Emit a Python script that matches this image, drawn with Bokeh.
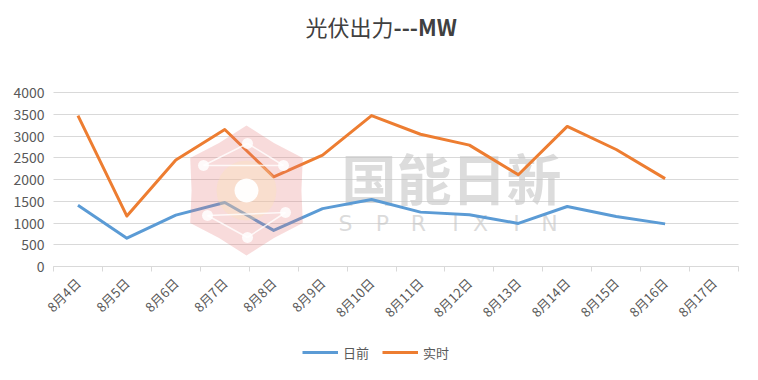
import math
import numpy as np
from bokeh.plotting import figure
from bokeh.models import (Range1d, FixedTicker, Label, Legend, LegendItem,
                          PolyAnnotation, Arrow)
from bokeh.embed import file_html
from bokeh.resources import INLINE

# ---- data ----
dates = ["8月4日", "8月5日", "8月6日", "8月7日", "8月8日", "8月9日", "8月10日",
         "8月11日", "8月12日", "8月13日", "8月14日", "8月15日", "8月16日", "8月17日"]
day_ahead = [1410, 650, 1180, 1470, 830, 1330, 1540, 1250, 1190, 990, 1380, 1150, 980, float("nan")]
real_time = [3470, 1160, 2450, 3150, 2060, 2560, 3470, 3040, 2790, 2110, 3220, 2690, 2020, float("nan")]
y_ticks = [0, 500, 1000, 1500, 2000, 2500, 3000, 3500, 4000]
series_names = ["日前", "实时"]
series_colors = ["#5B9BD5", "#ED7D31"]
title_cn = "光伏出力"
title_unit = "---MW"
watermark_cn = "国能日新"
watermark_en = "SPRIXIN"

FONT = "Noto Sans CJK SC"
W, H = 742, 364
# plot-area box in canvas pixels
LEFT_PX, RIGHT_PX = 53, 738
AXIS_PX, GRID_TOP_PX = 266, 92

n = len(dates)
x_lo, x_hi = -0.5, n - 0.5
xper = (x_hi - x_lo) / (RIGHT_PX - LEFT_PX)
yper = y_ticks[-1] / (AXIS_PX - GRID_TOP_PX)
x_range = Range1d(x_lo - LEFT_PX * xper, x_hi + (W - RIGHT_PX) * xper)
y_range = Range1d(-(H - AXIS_PX) * yper, y_ticks[-1] + GRID_TOP_PX * yper)

p = figure(width=W, height=H, output_backend="svg", toolbar_location=None,
           x_range=x_range, y_range=y_range,
           min_border_left=0, min_border_right=0, min_border_top=0, min_border_bottom=0)
p.title.visible = False
p.outline_line_color = None
p.background_fill_color = "white"
p.border_fill_color = "white"

x = np.arange(n)

# x axis, drawn at value 0
xa = p.xaxis[0]
xa.fixed_location = 0
xa.bounds = (x_lo, x_hi)
xa.ticker = FixedTicker(ticks=[int(v) for v in x],
                        minor_ticks=[v - 0.5 for v in range(n + 1)])
xa.major_label_overrides = {int(v): d for v, d in zip(x, dates)}
xa.axis_line_color = "#d9d9d9"
xa.major_tick_out = 0
xa.major_tick_in = 0
xa.minor_tick_out = 5
xa.minor_tick_in = 0
xa.minor_tick_line_color = "#d9d9d9"
xa.major_label_orientation = math.pi / 4
xa.major_label_text_font = FONT
xa.major_label_text_font_size = "13px"
xa.major_label_text_color = "#595959"
xa.major_label_standoff = 9

# y axis, drawn at the left edge of the category band
ya = p.yaxis[0]
ya.fixed_location = x_lo
ya.bounds = (y_ticks[0], y_ticks[-1])
ya.ticker = FixedTicker(ticks=y_ticks)
ya.axis_line_color = None
ya.major_tick_out = 0
ya.major_tick_in = 0
ya.minor_tick_out = 0
ya.minor_tick_in = 0
ya.major_tick_line_color = None
ya.minor_tick_line_color = None
ya.major_label_text_font = FONT
ya.major_label_text_font_size = "14px"
ya.major_label_text_color = "#595959"
ya.major_label_standoff = 9

p.xgrid.visible = False
yg = p.ygrid[0]
if "cross_bounds" in yg.properties():
    yg.ticker = FixedTicker(ticks=y_ticks)
    yg.cross_bounds = (x_lo, x_hi)
    yg.grid_line_color = "#d9d9d9"
    yg.grid_line_width = 1
else:
    yg.visible = False
    p.segment(x0=[x_lo] * len(y_ticks), x1=[x_hi] * len(y_ticks), y0=y_ticks, y1=y_ticks,
              line_color="#d9d9d9", line_width=1, level="underlay")

# ---- watermark (decoration), screen units from the frame's bottom-left ----
p.add_layout(Label(x=451, y=H - 175, x_units="screen", y_units="screen", text=watermark_cn,
                   text_align="center", text_baseline="middle", text_font=FONT,
                   text_font_style="bold", text_font_size="55px", text_color="#c4c4c4",
                   text_alpha=0.6, level="underlay"))
en_x = [345, 382, 418, 455, 480, 516, 549]
for ch, ex in zip(watermark_en, en_x):
    p.add_layout(Label(x=ex, y=H - 223, x_units="screen", y_units="screen", text=ch,
                       text_align="center", text_baseline="middle", text_font="DejaVu Sans",
                       text_font_size="22px", text_color="#c4c4c4", text_alpha=0.6,
                       level="underlay"))


def ring(cx, cy, r, k=24):
    return ([cx + r * math.cos(2 * math.pi * i / k) for i in range(k)],
            [cy + r * math.sin(2 * math.pi * i / k) for i in range(k)])


cx, cy, R = 246, H - 190, 65
hx, hy = [], []
for k in range(6):
    a0 = math.radians(90 + 60 * k)
    a1 = math.radians(90 + 60 * (k + 1))
    hx.append(cx + R * math.cos(a0))
    hy.append(cy + R * math.sin(a0))
    am = (a0 + a1) / 2
    hx.append(cx + R * 0.845 * math.cos(am))
    hy.append(cy + R * 0.845 * math.sin(am))
p.add_layout(PolyAnnotation(xs=hx, ys=hy, xs_units="screen", ys_units="screen",
                            fill_color="#e57373", fill_alpha=0.26, line_color=None))
gx, gy = ring(cx, cy, 30)
p.add_layout(PolyAnnotation(xs=gx, ys=gy, xs_units="screen", ys_units="screen",
                            fill_color="#fbe3b0", fill_alpha=0.3, line_color=None))
nodes = [(-43, 25), (1, 47), (37, 25), (-39, -25), (1, -47), (39, -22)]
links = [(0, 1), (1, 2), (3, 4), (4, 5), (0, 2), (3, 5)]
for a, b in links:
    p.add_layout(Arrow(x_start=cx + nodes[a][0], y_start=cy + nodes[a][1],
                       x_end=cx + nodes[b][0], y_end=cy + nodes[b][1],
                       start_units="screen", end_units="screen", end=None,
                       line_color="white", line_width=1.5, line_alpha=0.8))
for dx, dy in nodes:
    nx, ny = ring(cx + dx, cy + dy, 5.5, 16)
    p.add_layout(PolyAnnotation(xs=nx, ys=ny, xs_units="screen", ys_units="screen",
                                fill_color="white", fill_alpha=0.85, line_color=None))
ccx, ccy = ring(cx, cy, 12)
p.add_layout(PolyAnnotation(xs=ccx, ys=ccy, xs_units="screen", ys_units="screen",
                            fill_color="white", fill_alpha=0.95, line_color=None))

# ---- lines ----
r1 = p.line(x, day_ahead, line_color=series_colors[0], line_width=3, line_join="round")
r2 = p.line(x, real_time, line_color=series_colors[1], line_width=3, line_join="round")

legend = Legend(items=[LegendItem(label=series_names[0], renderers=[r1]),
                       LegendItem(label=series_names[1], renderers=[r2])],
                location=(302, 2), orientation="horizontal",
                glyph_width=36, glyph_height=20, label_height=20, label_standoff=5,
                spacing=13, padding=0, margin=0,
                label_text_font=FONT, label_text_font_size="13px",
                label_text_color="#595959",
                border_line_color=None, background_fill_alpha=0)
p.add_layout(legend, "center")

# ---- title ----
p.add_layout(Label(x=393, y=H - 25, x_units="screen", y_units="screen", text=title_cn,
                   text_align="right", text_baseline="middle", text_font=FONT,
                   text_font_size="22px", text_color="#404040"))
p.add_layout(Label(x=393, y=H - 25, x_units="screen", y_units="screen", text=title_unit,
                   text_align="left", text_baseline="middle", text_font=FONT,
                   text_font_style="bold", text_font_size="22px", text_color="#404040"))

open("out.html", "w").write(file_html(p, INLINE))
